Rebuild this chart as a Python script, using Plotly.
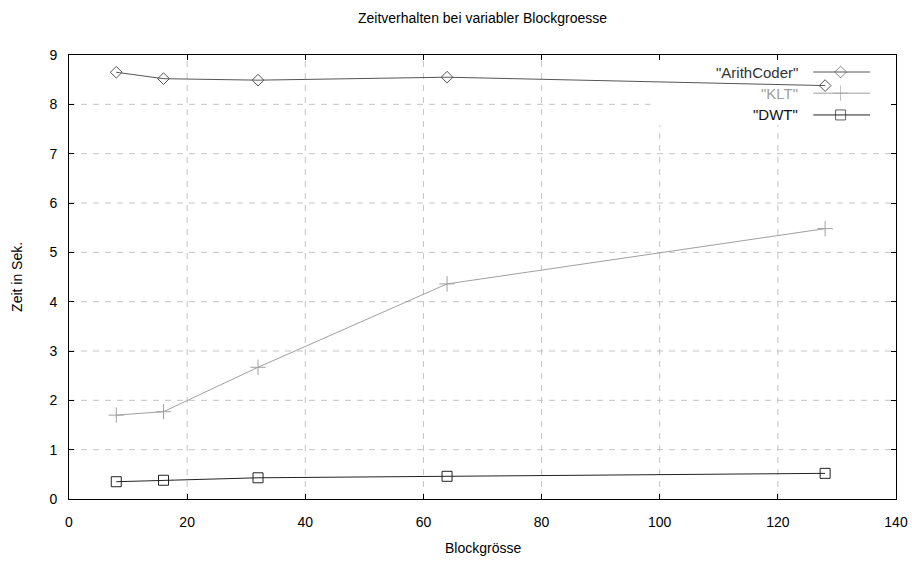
import plotly.graph_objects as go

# Measured run times (seconds) per block size
block_sizes = [8, 16, 32, 64, 128]
arith_coder = [8.65, 8.52, 8.49, 8.55, 8.38]
klt = [1.70, 1.77, 2.67, 4.36, 5.48]
dwt = [0.35, 0.38, 0.43, 0.46, 0.52]

series_names = ['"ArithCoder"', '"KLT"', '"DWT"']
x_ticks = [0, 20, 40, 60, 80, 100, 120, 140]
y_ticks = [0, 1, 2, 3, 4, 5, 6, 7, 8, 9]
X_RANGE = [0, 140]
Y_RANGE = [0, 9]

FONT = "Liberation Sans, Arial, sans-serif"
GRID = dict(color="#c4c4c4", width=1, dash="6px,6px")
styles = [
    dict(color="#555555", text="#333333", symbol="diamond-open", size=9),
    dict(color="#a0a0a0", text="#a0a0a0", symbol="cross-thin-open", size=11),
    dict(color="#222222", text="#111111", symbol="square-open", size=10),
]

fig = go.Figure()

# Dashed grid drawn as shapes under the traces
for v in x_ticks[1:-1]:
    fig.add_shape(type="line", xref="x", yref="y domain", x0=v, x1=v, y0=0, y1=1,
                  line=GRID, layer="below")
for v in y_ticks[1:-1]:
    fig.add_shape(type="line", xref="x domain", yref="y", x0=0, x1=1, y0=v, y1=v,
                  line=GRID, layer="below")

# White area behind the key hides the grid there
fig.add_shape(type="rect", xref="x domain", yref="y domain",
              x0=0.703, x1=1.0, y0=0.842, y1=1.0,
              fillcolor="white", line=dict(width=0), layer="below")

for name, ys, st in zip(series_names, [arith_coder, klt, dwt], styles):
    fig.add_trace(go.Scatter(
        x=block_sizes, y=ys, mode="lines+markers", name=name,
        line=dict(color=st["color"], width=1),
        marker=dict(symbol=st["symbol"], size=st["size"], color=st["color"],
                    line=dict(color=st["color"], width=1)),
        showlegend=False, cliponaxis=False,
    ))


def fx(f):
    """Fraction of the plot width -> x data value."""
    return X_RANGE[0] + f * (X_RANGE[1] - X_RANGE[0])


def fy(f):
    """Fraction of the plot height -> y data value."""
    return Y_RANGE[0] + f * (Y_RANGE[1] - Y_RANGE[0])


# Key in the upper right: text on the left, sample line with marker on the right
key_rows = [0.9617, 0.914, 0.865]
for name, row, st in zip(series_names, key_rows, styles):
    fig.add_trace(go.Scatter(
        x=[fx(0.900), fx(0.933), fx(0.9686)], y=[fy(row)] * 3, mode="lines+markers",
        line=dict(color=st["color"], width=1),
        marker=dict(symbol=st["symbol"], size=[0, st["size"], 0], color=st["color"],
                    line=dict(color=st["color"], width=[0, 1, 0])),
        showlegend=False, hoverinfo="skip",
    ))
    fig.add_annotation(
        x=0.884, y=row, xref="x domain", yref="y domain", text=name, showarrow=False,
        xanchor="right", yanchor="middle",
        font=dict(family=FONT, size=15, color=st["text"]),
    )

# Axis titles
fig.add_annotation(x=0.5, y=-0.110, xref="paper", yref="paper", text="Blockgrösse",
                   showarrow=False, xanchor="center", yanchor="middle",
                   font=dict(family=FONT, size=14, color="black"))
fig.add_annotation(x=-0.063, y=0.5, xref="paper", yref="paper", text="Zeit in Sek.",
                   showarrow=False, xanchor="center", yanchor="middle", textangle=-90,
                   font=dict(family=FONT, size=14, color="black"))

axis_common = dict(
    showline=True, linecolor="black", linewidth=1, mirror="ticks",
    ticks="inside", ticklen=5, tickcolor="black", tickwidth=1,
    showgrid=False, zeroline=False, automargin=False,
    tickfont=dict(family=FONT, size=14, color="black"),
)

fig.update_layout(
    width=912, height=570,
    margin=dict(l=69, r=16, t=55, b=71),
    paper_bgcolor="white", plot_bgcolor="white",
    title=dict(text="Zeitverhalten bei variabler Blockgroesse", x=0.5, xref="paper",
               y=0.968, yanchor="middle",
               font=dict(family=FONT, size=14, color="black")),
    xaxis=dict(range=X_RANGE, tickvals=x_ticks, ticktext=[str(v) for v in x_ticks],
               ticklabelstandoff=10, **axis_common),
    yaxis=dict(range=Y_RANGE, tickvals=y_ticks, ticktext=[str(v) for v in y_ticks],
               ticklabelstandoff=8, **axis_common),
)

fig.write_html("out.html")
